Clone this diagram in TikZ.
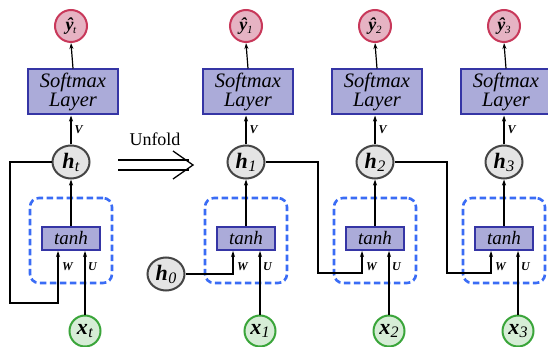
\documentclass[tikz,border=0pt]{standalone}
\usepackage{fontspec}
\setmainfont{Liberation Serif}
\usetikzlibrary{arrows.meta,shapes.geometric}
\definecolor{outred}{HTML}{C8385A}
\definecolor{outfill}{HTML}{E6B3C3}
\definecolor{smblue}{HTML}{3535A5}
\definecolor{smfill}{HTML}{ABABD9}
\definecolor{hgray}{HTML}{454545}
\definecolor{hfill}{HTML}{E4E4E4}
\definecolor{ingreen}{HTML}{3AA53A}
\definecolor{infill}{HTML}{D6EDD6}
\definecolor{cellblue}{HTML}{3A6CF5}
\newcommand{\hlab}[2]{\textbf{\textit{#1}}\kern0.3pt\raisebox{-3pt}{\fontsize{16}{16}\selectfont\textit{#2}}}
\newcommand{\ylab}[1]{\textbf{\textit{ŷ}}\kern-0.5pt\raisebox{-3pt}{\fontsize{11}{11}\selectfont\textit{#1}}}
\tikzset{
  outnode/.style={circle,draw=outred,fill=outfill,line width=2pt,minimum size=32pt,inner sep=0pt,font=\fontsize{18}{18}\selectfont},
  smnode/.style={draw=smblue,fill=smfill,line width=2pt,minimum width=90pt,minimum height=45pt,inner sep=0pt,align=center,font=\itshape\fontsize{20.5}{19}\selectfont},
  hnode/.style={ellipse,draw=hgray,fill=hfill,line width=2pt,minimum width=37pt,minimum height=33pt,inner sep=0pt,font=\fontsize{22}{22}\selectfont},
  tanhnode/.style={draw=smblue,fill=smfill,line width=2pt,minimum width=58pt,minimum height=23pt,inner sep=0pt,font=\itshape\fontsize{19}{19}\selectfont},
  cellnode/.style={draw=cellblue,line width=2.6pt,dash pattern=on 6.5pt off 3.5pt,rounded corners=9pt,minimum width=82pt,minimum height=85pt},
  innode/.style={circle,draw=ingreen,fill=infill,line width=2pt,minimum size=31pt,inner sep=0pt,font=\fontsize{22}{22}\selectfont},
  wire/.style={line width=1.2pt,-{Stealth[length=6pt,width=4pt]}},
  wlbl/.style={font=\bfseries\itshape\fontsize{12}{12}\selectfont,inner sep=1pt},
}
\begin{document}
\begin{tikzpicture}[x=1pt,y=-1pt]
\useasboundingbox (0,0) rectangle (548,347);
% folded network
\node[cellnode] (cellt) at (71,240.5) {};
\node[outnode] (yt) at (71,26) {\ylab{t}};
\node[smnode] (smt) at (73,92) {Softmax\\Layer};
\node[hnode] (ht) at (71,162) {\hlab{h}{t}};
\node[tanhnode] (tnt) at (71,238.5) {tanh};
\node[innode] (xt) at (85,331) {\hlab{x}{t}};
\coordinate (loopt) at (10,303);
\draw[wire] (smt.north) -- (yt.south);
\draw[wire] (ht.north) -- node[wlbl,anchor=west,xshift=2pt]{V} (ht.north |- smt.south);
\draw[wire] (tnt.north) -- (ht.south);
\draw[wire] (xt.north) -- (xt.north |- tnt.south);
\draw[wire] (ht.west) -| (loopt) -| ([xshift=-13pt]tnt.south);
\node[wlbl,anchor=north west] at ([xshift=-10pt,yshift=-10pt]tnt.south) {W};
\node[wlbl,anchor=north west] at ([xshift=16pt,yshift=-10pt]tnt.south) {U};
% unfold arrow
\node[font=\fontsize{18}{18}\selectfont] (unfold) at (155,139) {Unfold};
\draw[line width=1.3pt] (118,160) -- (189,160) (118,170) -- (189,170);
\draw[line width=1.3pt] (173,151) -- (193,165) -- (173,179);
% unrolled network
\foreach \i/\cx in {1/246,2/375,3/504}{
  \node[cellnode] (cell\i) at (\cx,240.5) {};
  \node[outnode] (y\i) at (\cx,26) {\ylab{\i}};
  \node[smnode] (sm\i) at (\cx+2,92) {Softmax\\Layer};
  \node[hnode] (h\i) at (\cx,162) {\hlab{h}{\i}};
  \node[tanhnode] (tn\i) at (\cx,238.5) {tanh};
  \node[innode] (x\i) at (\cx+14,331) {\hlab{x}{\i}};
  \draw[wire] (sm\i.north) -- (y\i.south);
  \draw[wire] (h\i.north) -- node[wlbl,anchor=west,xshift=2pt]{V} (h\i.north |- sm\i.south);
  \draw[wire] (tn\i.north) -- (h\i.south);
  \draw[wire] (x\i.north) -- (x\i.north |- tn\i.south);
  \node[wlbl,anchor=north west] at ([xshift=-10pt,yshift=-10pt]tn\i.south) {W};
  \node[wlbl,anchor=north west] at ([xshift=16pt,yshift=-10pt]tn\i.south) {U};
}
\node[hnode] (hinit) at (166,274) {\hlab{h}{0}};
\coordinate (turn1) at (318,273);
\coordinate (turn2) at (447,273);
\draw[wire] (hinit.east) -| ([xshift=-13pt]tn1.south);
\draw[wire] (h1.east) -| (turn1) -| ([xshift=-13pt]tn2.south);
\draw[wire] (h2.east) -| (turn2) -| ([xshift=-13pt]tn3.south);
\end{tikzpicture}
\end{document}
